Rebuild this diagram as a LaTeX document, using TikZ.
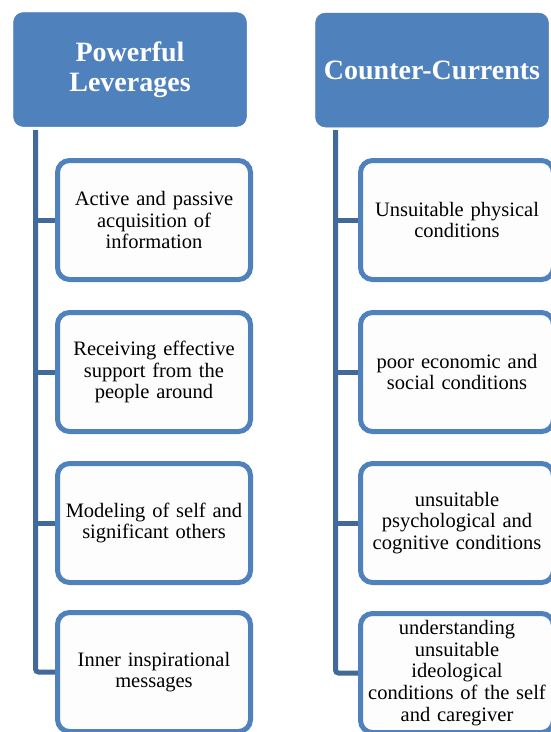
\documentclass[tikz,border=0pt]{standalone}
\usepackage{fontspec}
\setmainfont[WordSpace=0.55]{Liberation Serif}
\usetikzlibrary{backgrounds}
\definecolor{hdrblue}{HTML}{4F81BD}
\definecolor{spineblue}{HTML}{41699A}
\definecolor{boxfill}{HTML}{FDFDFD}
\tikzset{
  header/.style={rectangle, rounded corners=10pt, fill=hdrblue, draw=hdrblue, line width=0.5pt,
    minimum width=233pt, minimum height=114pt, text=white, align=center,
    font=\fontsize{28}{30}\selectfont\bfseries, inner sep=2pt},
  itembox/.style={rectangle, rounded corners=12pt, fill=boxfill, draw=hdrblue, line width=5pt,
    minimum width=193pt, minimum height=119pt, align=center, text width=188pt,
    font=\fontsize{20.5}{21.8}\selectfont, inner sep=1pt},
  spine/.style={draw=spineblue, line width=5pt, rounded corners=3pt}
}
\begin{document}
\begin{tikzpicture}[x=1pt,y=-1pt]
\useasboundingbox (0,0) rectangle (551,732);
\begin{scope}
\clip (0,0) rectangle (551,732);
% headers
\node[header] (lh) at (130,69.5) {Powerful\\Leverages};
\node[header] (rh) at (432,70) {Counter-Currents};
% spines start
\coordinate (ls) at (35.5,130);
\coordinate (rs) at (335.5,130);
% left children
\node[itembox] (l1) at (154,220) {Active and passive\\acquisition of\\information};
\node[itembox] (l2) at (154,372) {Receiving effective\\support from the\\people around};
\node[itembox] (l3) at (154,523) {Modeling of self and\\significant others};
\node[itembox] (l4) at (154,672) {Inner inspirational\\messages};
% right children
\node[itembox] (r1) at (457,220) {Unsuitable physical\\conditions};
\node[itembox] (r2) at (457,372) {poor economic and\\social conditions};
\node[itembox] (r3) at (457,523) {unsuitable\\psychological and\\cognitive conditions};
\node[itembox] (r4) at (457,673) {understanding\\unsuitable\\ideological\\conditions of the self\\and caregiver};
% connectors
\begin{scope}[on background layer]
\fill[white] (0,0) rectangle (551,732);
\draw[spine] (ls) |- (l4.west);
\draw[spine] (ls |- l1.west) -- (l1.west);
\draw[spine] (ls |- l2.west) -- (l2.west);
\draw[spine] (ls |- l3.west) -- (l3.west);
\draw[spine] (rs) |- (r4.west);
\draw[spine] (rs |- r1.west) -- (r1.west);
\draw[spine] (rs |- r2.west) -- (r2.west);
\draw[spine] (rs |- r3.west) -- (r3.west);
\end{scope}
\end{scope}
\end{tikzpicture}
\end{document}
